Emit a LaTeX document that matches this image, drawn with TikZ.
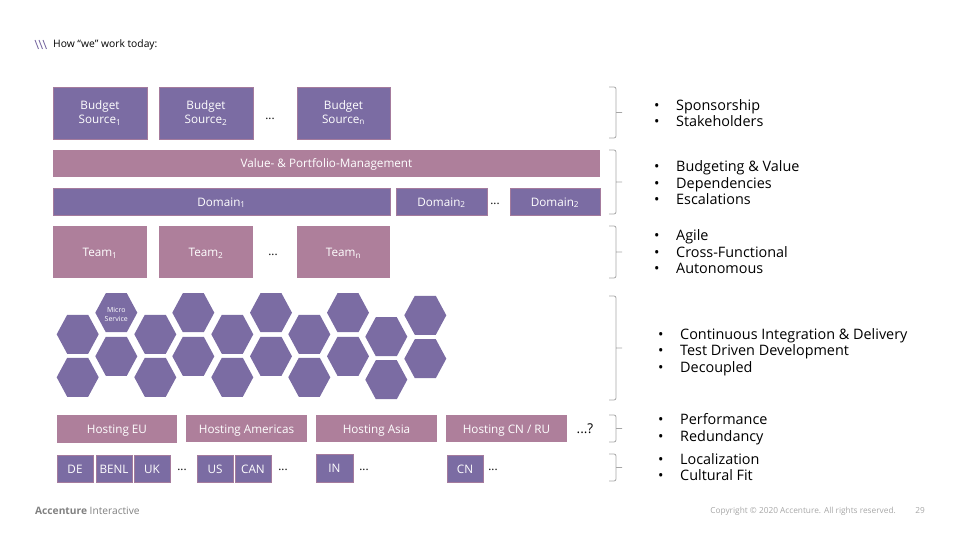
\documentclass[tikz,border=0pt]{standalone}
\usepackage{fontspec}
\setmainfont{Open Sans}
\usepackage{xcolor}

\definecolor{violetfill}{HTML}{7B6CA3}
\definecolor{pinkfill}{HTML}{AE7F9B}
\definecolor{greytext}{HTML}{A6A6A6}
\newcommand{\bul}[1]{\makebox[22pt][l]{\textbullet}#1}
\newcommand{\boxstrut}{\vrule width 0pt height 11.5pt depth 2.5pt\relax}

\begin{document}
\begin{tikzpicture}[x=1pt, y=-1pt, font=\fontsize{11.7}{14}\selectfont]

\tikzstyle{violetbox} = [rectangle, draw=pinkfill!80!violetfill, line width=0.5pt, fill=violetfill,
                         text=white, inner sep=0pt, align=center,
                         execute at begin node=\boxstrut]
\tikzstyle{pinkbox}   = [rectangle, fill=pinkfill, text=white, inner sep=0pt, align=center,
                         execute at begin node=\boxstrut]
\tikzstyle{bigbox}    = [minimum width=94pt, minimum height=52pt]
\tikzstyle{barbox}    = [minimum height=27pt]
\tikzstyle{hostbox}   = [pinkbox, minimum width=121pt, minimum height=27.5pt]
\tikzstyle{landbox}   = [violetbox, minimum width=35.5pt, minimum height=26.5pt]
\tikzstyle{dots}      = [inner sep=0pt]
\tikzstyle{bracket}   = [draw=gray!70, line width=0.8pt, rounded corners=2pt]
\tikzstyle{bullets}   = [anchor=west, inner sep=0pt, align=left,
                         font=\fontsize{14.4}{16.4}\selectfont]
\tikzset{hexa/.pic={\fill[violetfill] (-21,0) -- (-10.5,-19.5) -- (10.5,-19.5)
                    -- (21,0) -- (10.5,19.5) -- (-10.5,19.5) -- cycle;}}

\useasboundingbox (0,0) rectangle (960,540);

% ── Header ──────────────────────────────────────────
\foreach \xa in {35,39,43}
  \draw[violetfill, line width=0.9pt] (\xa,40) -- (\xa+3.5,49);
\node[anchor=west, inner sep=0pt, font=\fontsize{10.3}{12}\selectfont] (title) at (53,45) {How “we” work today:};

% ── Budget row ──────────────────────────────────────
\node[violetbox, bigbox, minimum width=93.5pt, minimum height=51.5pt] (budgetA) at (100,113.5) {Budget\\Source\textsubscript{1}};
\node[violetbox, bigbox, minimum width=93.5pt, minimum height=51.5pt] (budgetB) at (206,113.5) {Budget\\Source\textsubscript{2}};
\node[dots]              (budgetC) at (270,119)   {...};
\node[violetbox, bigbox, minimum width=92.5pt] (budgetN) at (343.5,113) {Budget\\Source\textsubscript{n}};

% ── Portfolio and domains ───────────────────────────
\node[pinkbox, barbox, minimum width=547pt]   (value)   at (326.5,163.5) {Value- \& Portfolio-Management};
\node[violetbox, barbox, minimum width=336.5pt] (domainA) at (221.5,201.5) {Domain\textsubscript{1}};
\node[violetbox, barbox, minimum width=90.5pt]  (domainB) at (441.5,201.5) {Domain\textsubscript{2}};
\node[dots]                                   (domainC) at (495,204)     {...};
\node[violetbox, barbox, minimum width=89.5pt]  (domainN) at (555,201.5)   {Domain\textsubscript{2}};

% ── Teams ───────────────────────────────────────────
\node[pinkbox, bigbox] (teamA) at (100,252)   {Team\textsubscript{1}};
\node[pinkbox, bigbox] (teamB) at (206,252)   {Team\textsubscript{2}};
\node[dots]            (teamC) at (273,255)   {...};
\node[pinkbox, bigbox, minimum width=93pt] (teamN) at (343.5,252) {Team\textsubscript{n}};

% ── Services ────────────────────────────────────────
\foreach \hx/\hy in {116.3/312.7, 77.7/334.3, 77.7/377.3, 116.3/356.3, 155.3/334.3, 155.3/377.3,
                     193.3/312.7, 193.3/356.3, 232.3/334.3, 232.3/377.3,
                     271/312.7, 271/356.3, 309.3/334.3, 309.3/377.3,
                     348/312.7, 348/356.3, 386.3/336.7, 386.3/379.7,
                     425.3/315.3, 425.3/358.7}
  \pic at (\hx,\hy) {hexa};
\node[text=white, align=center, inner sep=0pt, font=\fontsize{7}{9.5}\selectfont] (micro) at (116.3,314.5) {Micro\\Service};

% ── Hosting ─────────────────────────────────────────
\node[hostbox, minimum width=120pt, minimum height=28pt] (hostEU) at (117,429) {Hosting EU};
\node[hostbox]                      (hostAM)   at (246.5,428.7) {Hosting Americas};
\node[hostbox]                      (hostAS)   at (376.5,428.7) {Hosting Asia};
\node[hostbox]                      (hostCN)   at (506.5,428.7) {Hosting CN / RU};
\node[dots, font=\fontsize{13.5}{15}\selectfont] (hostMore) at (585,429) {...?};

% ── Countries ───────────────────────────────────────
\node[landbox] (landDE)   at (75,468.5)    {DE};
\node[landbox] (landBENL) at (114,468.5)   {BENL};
\node[landbox] (landUK)   at (152,468.5)   {UK};
\node[dots]    (dotsEU)   at (182,470)     {...};
\node[landbox] (landUS)   at (215,468.5)   {US};
\node[landbox] (landCAN)  at (253,468.5)   {CAN};
\node[dots]    (dotsAM)   at (283,470)     {...};
\node[landbox, minimum width=36.5pt, minimum height=27.5pt] (landIN) at (334.5,468) {IN};
\node[dots]    (dotsAS)   at (364,470)     {...};
\node[landbox] (landCN)   at (465,468.5)   {CN};
\node[dots]    (dotsCN)   at (493,470)     {...};

% ── Brackets ────────────────────────────────────────
\foreach \ya/\yb in {87/138, 150/214, 226/278, 296/400, 415/442, 454/481}
  \draw[bracket] (609,\ya) -- (616,\ya) -- (616,\yb) -- (609,\yb)
                 (616,{(\ya+\yb)/2}) -- (622,{(\ya+\yb)/2});

% ── Lists ───────────────────────────────────────────
\node[bullets] (listBudget)  at (654,113.2) {\bul{Sponsorship}\\\bul{Stakeholders}};
\node[bullets] (listValue)   at (654,182.6) {\bul{Budgeting \& Value}\\\bul{Dependencies}\\\bul{Escalations}};
\node[bullets] (listTeam)    at (654,251.6) {\bul{Agile}\\\bul{Cross-Functional}\\\bul{Autonomous}};
\node[bullets] (listService) at (658,351.9) {\bul{Continuous Integration \& Delivery}\\\bul{Test Driven Development}\\\bul{Decoupled}};
\node[bullets] (listHost)    at (658,429.2) {\bul{Performance}\\\bul{Redundancy}};
\node[bullets] (listLand)    at (658,467.2) {\bul{Localization}\\\bul{Cultural Fit}};

% ── Footer ──────────────────────────────────────────
\node[anchor=west, inner sep=0pt, text=gray, font=\fontsize{10.2}{12}\selectfont] (brand) at (35,511) {\textbf{Accenture} Interactive};
\node[anchor=east, inner sep=0pt, text=greytext, font=\fontsize{8.3}{10}\selectfont] (copyright) at (896,511) {Copyright © 2020 Accenture. All rights reserved.};
\node[anchor=east, inner sep=0pt, text=greytext, font=\fontsize{8.3}{10}\selectfont] (page) at (925,511) {29};

\end{tikzpicture}
\end{document}
